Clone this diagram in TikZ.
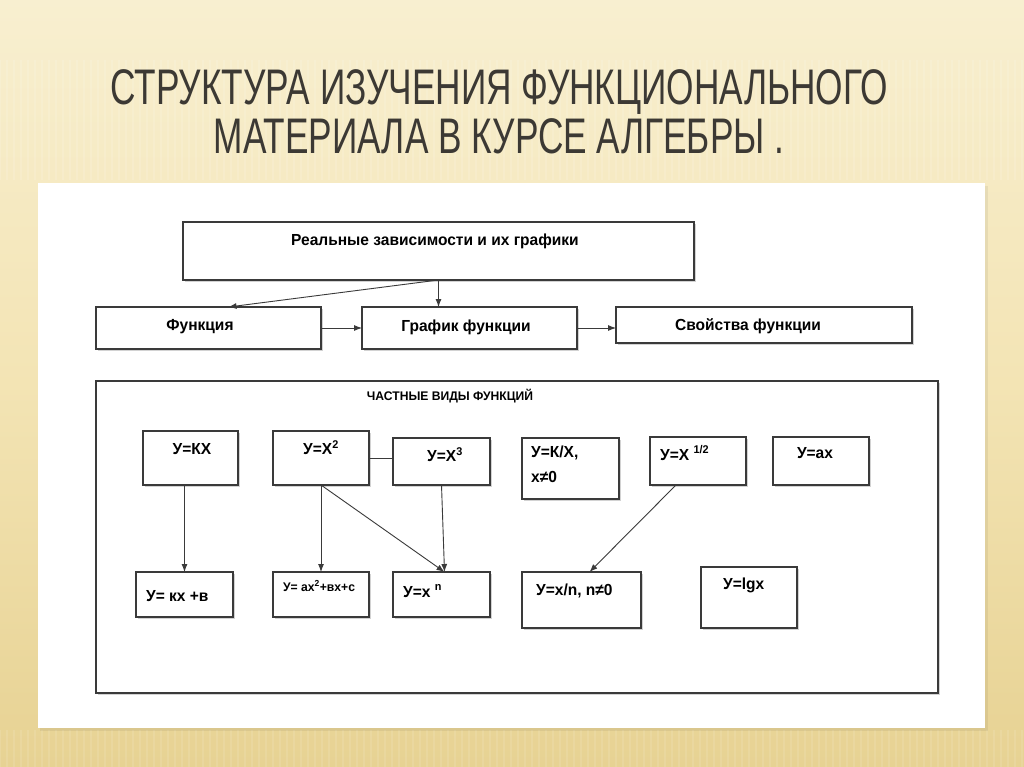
\documentclass[tikz,border=0pt]{standalone}
\usepackage{fontspec}
\setmainfont{Liberation Sans}
\newfontfamily\titlefont[FakeStretch=0.705]{Liberation Sans}
\newfontfamily\boxfont[FakeStretch=0.97]{Liberation Sans}
\usetikzlibrary{arrows.meta,shadows,calc}
\definecolor{bgtop}{HTML}{F8EFD0}
\definecolor{bgmid}{HTML}{F3E4B4}
\definecolor{bgbot}{HTML}{E7D293}
\definecolor{ink}{HTML}{3C3934}
\definecolor{edge}{HTML}{3A3A3A}
\tikzset{
  box/.style={draw=edge, line width=1.1pt, fill=white, rectangle, inner sep=0pt, outer sep=0pt,
    anchor=north west, drop shadow={shadow xshift=1.6pt, shadow yshift=-1.8pt, opacity=0.35, fill=gray}},
  txt/.style={font=\boxfont\bfseries\fontsize{16}{18}\selectfont, text=black, inner sep=0pt},
  smalltxt/.style={font=\boxfont\bfseries\fontsize{12.5}{14}\selectfont, text=black, inner sep=0pt},
  arr/.style={draw=edge, line width=0.9pt, -{Latex[length=8pt,width=6pt]}},
  conn/.style={draw=edge, line width=0.9pt},
}
\begin{document}
\begin{tikzpicture}[x=1pt,y=-1pt]
\useasboundingbox (0,0) rectangle (1024,767);
% background
\shade[top color=bgtop, bottom color=bgbot, middle color=bgmid] (0,0) rectangle (1024,767);
\foreach \i in {0,7,...,1024}{
  \draw[white, opacity=0.12, line width=1.5pt] (\i,60) -- (\i,180);
  \draw[white, opacity=0.10, line width=1.5pt] (\i,730) -- (\i,767);
}
% white panel
\fill[black, opacity=0.06] (40,186) rectangle (988,731);
\fill[white] (38,183) rectangle (985,728);
% title
\node[font=\titlefont\fontsize{50}{50}\selectfont, text=ink, align=center, inner sep=0pt] (title) at (499,112)
  {СТРУКТУРА ИЗУЧЕНИЯ ФУНКЦИОНАЛЬНОГО\\[-1pt]МАТЕРИАЛА В КУРСЕ АЛГЕБРЫ .};
% upper part
\node[box, minimum width=511pt, minimum height=58pt] (real) at (183,222) {};
\node[txt, anchor=west] (realt) at (291,241) {Реальные зависимости и  их графики};
\node[box, minimum width=225pt, minimum height=42pt] (func) at (96,307) {};
\node[txt] (funct) at (200,327) {Функция};
\node[box, minimum width=215pt, minimum height=42pt] (graf) at (362,307) {};
\node[txt] (graft) at (466,327) {График функции};
\node[box, minimum width=296pt, minimum height=36pt] (svoi) at (616,307) {};
\node[txt] (svoit) at (748,326) {Свойства функции};
\draw[arr] (real.south) -- (real.south |- graf.north);
\draw[arr] (real.south) -- ($(func.north)+(20,0)$);
\draw[arr] (func.east) -- (graf.west);
\draw[arr] (graf.east) -- (graf.east -| svoi.west);
% big box
\node[box, minimum width=842pt, minimum height=312pt] (big) at (96,381) {};
\node[txt, font=\boxfont\bfseries\fontsize{12.5}{14}\selectfont] (bigt) at (450,396) {ЧАСТНЫЕ ВИДЫ ФУНКЦИЙ};
% row 1
\node[box, minimum width=95pt, minimum height=54pt] (kx) at (143,431) {};
\node[txt] (kxt) at (192,449) {У=КХ};
\node[box, minimum width=96pt, minimum height=54pt] (x2) at (273,431) {};
\node[txt] (x2t) at (321,448) {У=Х\textsuperscript{2}};
\node[box, minimum width=97pt, minimum height=47pt] (x3) at (393,438) {};
\node[txt] (x3t) at (445,455) {У=Х\textsuperscript{3}};
\node[box, minimum width=97pt, minimum height=61pt] (kdx) at (522,438) {};
\node[txt, anchor=north west, align=left] (kdxt) at (531,446) {У=К/Х,\\[7pt]х≠0};
\node[box, minimum width=96pt, minimum height=48pt] (sq) at (650,437) {};
\node[txt, anchor=west] (sqt) at (660,453) {У=Х \textsuperscript{1/2}};
\node[box, minimum width=96pt, minimum height=48pt] (ax) at (773,437) {};
\node[txt] (axt) at (815,453) {У=ах};
% row 2
\node[box, minimum width=97pt, minimum height=45pt] (kxb) at (136,572) {};
\node[txt, anchor=west] (kxbt) at (146,596) {У= кх +в};
\node[box, minimum width=96pt, minimum height=45pt] (ax2) at (273,572) {};
\node[smalltxt, anchor=west] (ax2t) at (283,586) {У= ах\textsuperscript{2}+вх+с};
\node[box, minimum width=97pt, minimum height=45pt] (xn) at (393,572) {};
\node[txt, anchor=west] (xnt) at (403,591) {У=х \textsuperscript{n}};
\node[box, minimum width=119pt, minimum height=56pt] (xdn) at (522,572) {};
\node[txt, anchor=west] (xdnt) at (536,591) {У=х/n, n≠0};
\node[box, minimum width=96pt, minimum height=61pt] (lg) at (701,567) {};
\node[txt, anchor=west] (lgt) at (723,585) {У=lgх};
% connectors
\draw[arr] (kxb.north |- kx.south) -- (kxb.north);
\draw[arr] (x2.south) -- (x2.south |- ax2.north);
\draw[arr] (x2.south) -- ($(xn.north)+(3,0)$);
\draw[arr] (x3.south) -- ($(xn.north)+(3,0)$);
\draw[conn] (x2.east) -- (x2.east -| x3.west);
\draw[arr] ($(sq.south)+(-22,0)$) -- ($(xdn.north)+(8,0)$);
\end{tikzpicture}
\end{document}
